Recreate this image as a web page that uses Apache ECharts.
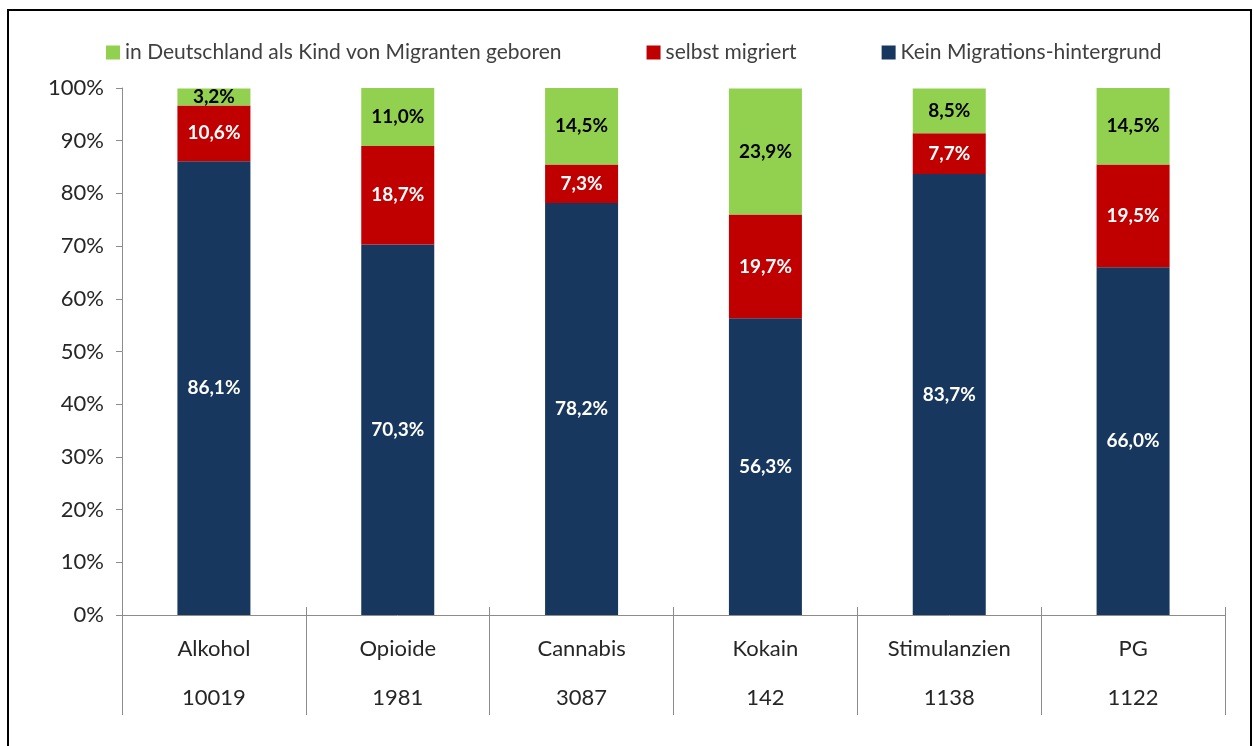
<!DOCTYPE html>
<html>
<head>
    <meta charset="utf-8">
    <title>Migrationshintergrund nach Hauptdiagnose</title>
    <script src="https://cdn.jsdelivr.net/npm/echarts@6/dist/echarts.min.js"></script>
    <style>
        html, body { margin: 0; padding: 0; background: #fff; }
        #chart1 { width: 1254px; height: 746px; }
    </style>
</head>
<body>
<div id="chart1"></div>

<script type="text/javascript">
    // Daten
    var categories = ['Alkohol', 'Opioide', 'Cannabis', 'Kokain', 'Stimulanzien', 'PG'];
    var counts = ['10019', '1981', '3087', '142', '1138', '1122'];
    var keinMigration = [86.1, 70.3, 78.2, 56.3, 83.7, 66.0];
    var selbstMigriert = [10.6, 18.7, 7.3, 19.7, 7.7, 19.5];
    var kindVonMigranten = [3.2, 11.0, 14.5, 23.9, 8.5, 14.5];
    var yTicks = [0, 10, 20, 30, 40, 50, 60, 70, 80, 90, 100];

    var font = 'Lato, "Open Sans", sans-serif';
    var axisGray = '#8c8c8c';

    function pct(v) {
        return v.toFixed(1).replace('.', ',') + '%';
    }

    function barLabel(color) {
        return {
            show: true,
            position: 'inside',
            color: color,
            fontFamily: font,
            fontWeight: 'bold',
            fontSize: 19,
            formatter: function (p) { return pct(p.value); }
        };
    }

    var myChart = echarts.init(document.getElementById('chart1'));
    myChart.setOption({
        animation: false,
        textStyle: { fontFamily: font },
        graphic: [{
            type: 'rect',
            shape: { x: 8, y: 10, width: 1243, height: 760 },
            style: { fill: 'none', stroke: '#000', lineWidth: 2 },
            silent: true
        }],
        legend: {
            top: 37,
            left: 101,
            itemWidth: 14,
            itemHeight: 14,
            itemGap: 85,
            icon: 'rect',
            data: ['in Deutschland als Kind von Migranten geboren', 'selbst migriert', 'Kein Migrations-hintergrund'],
            textStyle: { fontSize: 21, color: '#404040', fontFamily: font }
        },
        grid: { left: 122, right: 29, top: 88, bottom: 131 },
        xAxis: [{
            type: 'category',
            data: categories,
            axisLine: { lineStyle: { color: axisGray } },
            axisTick: { show: true, length: 100, lineStyle: { color: axisGray } },
            axisLabel: {
                margin: 9,
                interval: 0,
                formatter: function (v, i) { return '{a|' + v + '}\n{a|' + counts[i] + '}'; },
                rich: {
                    a: { fontSize: 22, color: '#262626', lineHeight: 49, fontFamily: font }
                }
            }
        }, {
            type: 'category',
            data: categories,
            position: 'bottom',
            axisLine: { show: false },
            axisTick: { show: true, inside: true, length: 8, lineStyle: { color: axisGray } },
            axisLabel: { show: false }
        }, {
            type: 'category',
            data: categories,
            position: 'bottom',
            axisLine: { show: false },
            axisTick: { show: true, inside: true, alignWithLabel: true, length: 7, lineStyle: { color: axisGray } },
            axisLabel: { show: false }
        }],
        yAxis: {
            type: 'value',
            min: yTicks[0],
            max: yTicks[yTicks.length - 1],
            interval: 10,
            axisLine: { show: true, lineStyle: { color: axisGray } },
            axisTick: { show: true, length: 6, lineStyle: { color: axisGray } },
            splitLine: { show: false },
            axisLabel: {
                margin: 18,
                fontSize: 22,
                color: '#262626',
                fontFamily: font,
                formatter: '{value}%'
            }
        },
        series: [{
            name: 'Kein Migrations-hintergrund',
            type: 'bar',
            stack: 'gesamt',
            barWidth: 73,
            itemStyle: { color: '#17375E' },
            label: barLabel('#fff'),
            data: keinMigration
        }, {
            name: 'selbst migriert',
            type: 'bar',
            stack: 'gesamt',
            barWidth: 73,
            itemStyle: { color: '#C00000' },
            label: barLabel('#fff'),
            data: selbstMigriert
        }, {
            name: 'in Deutschland als Kind von Migranten geboren',
            type: 'bar',
            stack: 'gesamt',
            barWidth: 73,
            itemStyle: { color: '#92D050' },
            label: barLabel('#000'),
            data: kindVonMigranten
        }]
    });
</script>
</body>
</html>
